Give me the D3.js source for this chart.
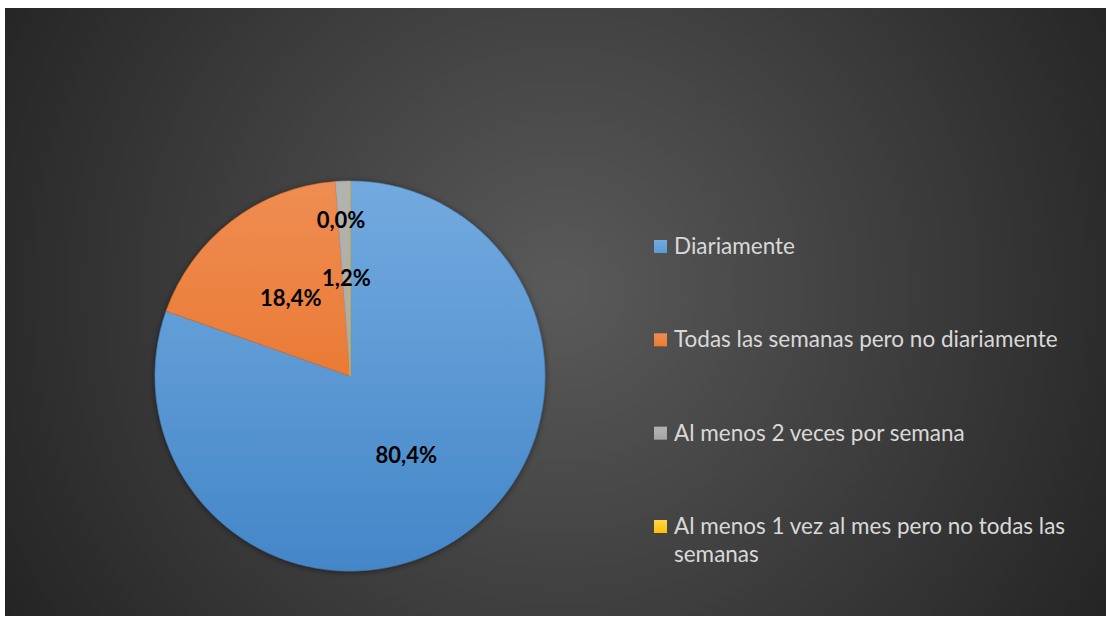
<!DOCTYPE html>
<html>
<head>
<meta charset="utf-8">
<script src="https://cdn.jsdelivr.net/npm/d3@7"></script>
<style>
  body { margin: 0; background: #fff; }
</style>
</head>
<body>
<script>
// data
const categories = ["Diariamente", "Todas las semanas pero no diariamente", "Al menos 2 veces por semana", "Al menos 1 vez al mes pero no todas las semanas"];
const values = [80.4, 18.4, 1.2, 0.0];
const topColors = ["#73aadf", "#ef8d52", "#b3b3b3", "#ffd54a"];
const bottomColors = ["#4386c8", "#e5681a", "#a0a0a0", "#f5b800"];
const legendColors = ["#5b9bd5", "#ed7d31", "#a5a5a5", "#ffc000"];

const width = 1107, height = 618;
const svg = d3.select("body").append("svg")
    .attr("width", width)
    .attr("height", height);

const defs = svg.append("defs");

// background gradient
const bg = defs.append("radialGradient")
    .attr("id", "bg")
    .attr("gradientUnits", "userSpaceOnUse")
    .attr("cx", 560).attr("cy", 290).attr("r", 640);
bg.append("stop").attr("offset", "0%").attr("stop-color", "#5a5a5a");
bg.append("stop").attr("offset", "100%").attr("stop-color", "#242424");

svg.append("rect")
    .attr("x", 5).attr("y", 8)
    .attr("width", 1101).attr("height", 608)
    .attr("fill", "url(#bg)");

const cx = 350, cy = 376, R = 195;

// slice gradients (in pie group coords)
categories.forEach((c, i) => {
    const g = defs.append("linearGradient")
        .attr("id", "sl" + i)
        .attr("gradientUnits", "userSpaceOnUse")
        .attr("x1", 0).attr("y1", -R)
        .attr("x2", 0).attr("y2", R);
    g.append("stop").attr("offset", "0%").attr("stop-color", topColors[i]);
    g.append("stop").attr("offset", "100%").attr("stop-color", bottomColors[i]);
    const lgd = defs.append("linearGradient")
        .attr("id", "lg" + i)
        .attr("x1", 0).attr("y1", 0).attr("x2", 0).attr("y2", 1);
    lgd.append("stop").attr("offset", "0%").attr("stop-color", topColors[i]);
    lgd.append("stop").attr("offset", "100%").attr("stop-color", legendColors[i]);
});

const shadow = defs.append("filter").attr("id", "shadow")
    .attr("x", "-10%").attr("y", "-10%").attr("width", "120%").attr("height", "120%");
shadow.append("feDropShadow")
    .attr("dx", 0).attr("dy", 1).attr("stdDeviation", 3)
    .attr("flood-color", "#000").attr("flood-opacity", 0.5);

const pie = d3.pie().sort(null).value(d => d)(values);
const arc = d3.arc().innerRadius(0).outerRadius(R);
const labelArc = d3.arc().innerRadius(R * 0.5).outerRadius(R * 0.5);

const g = svg.append("g").attr("transform", `translate(${cx},${cy})`);

g.append("g").attr("filter", "url(#shadow)")
  .selectAll("path")
  .data(pie)
  .join("path")
    .attr("d", arc)
    .attr("fill", (d, i) => `url(#sl${i})`)
    .attr("stroke", (d, i) => bottomColors[i])
    .attr("stroke-width", 0.5);

g.selectAll("text.lbl")
  .data(pie)
  .join("text")
    .attr("class", "lbl")
    .attr("transform", d => {
        let [x, y] = labelArc.centroid(d);
        if (d.value === 0) { x -= 9; y -= 58; }
        return `translate(${x},${y})`;
    })
    .attr("text-anchor", "middle")
    .attr("dy", "0.35em")
    .attr("font-family", "Lato, 'Open Sans', sans-serif")
    .attr("font-weight", "bold")
    .attr("font-size", 22)
    .attr("fill", "#000")
    .text(d => d.value.toFixed(1).replace(".", ",") + "%");

// legend
const legendY = d3.scalePoint().domain(categories).range([246, 526]);
const lg = svg.append("g");
const items = lg.selectAll("g")
  .data(categories)
  .join("g")
    .attr("transform", d => `translate(654,${legendY(d)})`);

items.append("rect")
    .attr("x", 0).attr("y", -6)
    .attr("width", 13).attr("height", 13)
    .attr("fill", (d, i) => `url(#lg${i})`);

const wraps = [["Diariamente"], ["Todas las semanas pero no diariamente"], ["Al menos 2 veces por semana"], ["Al menos 1 vez al mes pero no todas las", "semanas"]];

items.append("text")
    .attr("x", 20)
    .attr("font-family", "Lato, 'Open Sans', sans-serif")
    .attr("font-size", 22.5)
    .attr("fill", "#d9d9d9")
    .selectAll("tspan")
    .data((d, i) => wraps[i])
    .join("tspan")
      .attr("x", 20)
      .attr("y", (d, j) => j * 28)
      .attr("dy", "0.35em")
      .text(d => d);
</script>
</body>
</html>
